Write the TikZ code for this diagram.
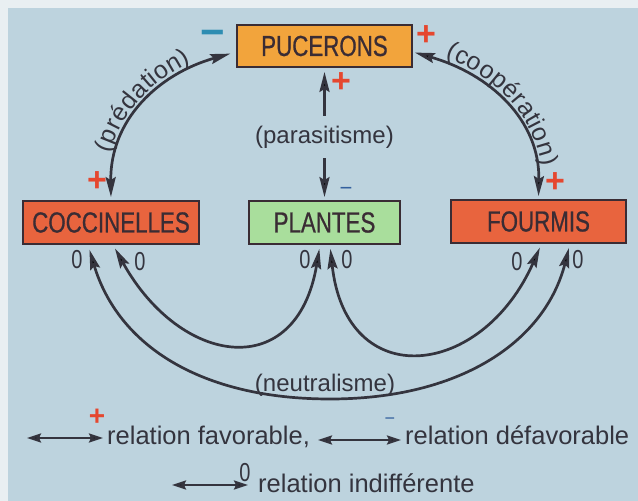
\documentclass[tikz,border=0pt]{standalone}
\usepackage{fontspec}
\setmainfont{Liberation Sans}
\newfontfamily\condf[FakeStretch=0.77,FakeBold=0.6]{Liberation Sans}
\newfontfamily\zerof[FakeStretch=0.77]{Liberation Sans}
\usetikzlibrary{arrows.meta,decorations.text}
\definecolor{bgblue}{HTML}{BDD3DE}
\definecolor{bgedge}{HTML}{E9EFF2}
\definecolor{ink}{HTML}{34343E}
\definecolor{boxline}{HTML}{3A2C34}
\definecolor{pucfill}{HTML}{F2A43C}
\definecolor{redfill}{HTML}{E8643E}
\definecolor{greenfill}{HTML}{A9DE9C}
\definecolor{plusred}{HTML}{E5472F}
\definecolor{minusblue}{HTML}{2E8DB2}
\definecolor{minusdark}{HTML}{33609E}
\begin{document}
\begin{tikzpicture}[x=1pt,y=1pt,
  box/.style={draw=boxline, line width=1.8pt, minimum height=43pt, inner sep=0pt,
    text=boxline, font=\condf\fontsize{29}{29}\selectfont},
  tipS/.tip={Stealth[length=20pt,width=10pt,inset=3pt]},
  arr/.style={draw=ink, line width=2.7pt, tipS-tipS},
  arrone/.style={draw=ink, line width=2.7pt, -tipS},
  legarr/.style={draw=ink, line width=2.4pt, {Stealth[length=14pt,width=9pt,inset=2pt]}-{Stealth[length=14pt,width=9pt,inset=2pt]}},
  lbl/.style={text=ink, inner sep=0pt, font=\fontsize{24}{24}\selectfont},
  legtxt/.style={text=ink, inner sep=0pt, font=\fontsize{25.5}{25.5}\selectfont},
  zero/.style={text=ink, inner sep=0pt, font=\zerof\fontsize{26}{26}\selectfont},
  plussign/.style={text=plusred, inner sep=0pt, font=\bfseries\fontsize{34}{34}\selectfont},
  minussign/.style={text=minusblue, inner sep=0pt, font=\bfseries\fontsize{42}{42}\selectfont},
  minussmall/.style={text=minusdark, inner sep=0pt, font=\fontsize{22}{22}\selectfont}
]
\useasboundingbox (0,0) rectangle (638,501);
\fill[bgedge] (0,0) rectangle (638,501);
\fill[bgblue] (8,0) rectangle (638,493);

% boxes
\node[box, fill=pucfill, minimum width=175pt, minimum height=42pt] (puc) at (324.5,455) {PUCERONS};
\node[box, fill=redfill, minimum width=176pt] (coc) at (111,278.5) {COCCINELLES};
\node[box, fill=greenfill, minimum width=151pt] (pla) at (324.5,278.5) {PLANTES};
\node[box, fill=redfill, minimum width=175pt] (fou) at (538.5,279.5) {FOURMIS};

% predation
\draw[arr, shorten <=3pt, shorten >=6pt] (coc.north) .. controls (110,381) and (158,427) .. ([yshift=-6pt]puc.west);
\path[decorate, decoration={text along path, text color=ink,
   text={|\fontsize{25}{25}\selectfont|(prédation)}, text align=center, raise=6pt}]
   (coc.north) .. controls (110,381) and (158,427) .. ([yshift=-6pt]puc.west);
% cooperation
\draw[arr, shorten <=2pt, shorten >=3pt] ([yshift=-6pt]puc.east) .. controls (490,427) and (540,381) .. (fou.north);
\path[decorate, decoration={text along path, text color=ink,
   text={|\fontsize{25}{25}\selectfont|(coopération)}, text align=center, raise=6pt}]
   ([yshift=-6pt]puc.east) .. controls (490,427) and (540,381) .. (fou.north);

% parasitisme
\node[lbl, inner ysep=10pt] (par) at (324.5,364) {(parasitisme)};
\draw[arrone, shorten >=4pt] (par) -- (puc);
\draw[arrone, shorten >=3pt] (par) -- (pla);

% lower arcs
\draw[arr, shorten <=4pt, shorten >=4pt] ([xshift=2pt]coc.south) .. controls (181,134) and (297,118) .. ([xshift=-4.5pt]pla.south);
\draw[arr, shorten <=4pt, shorten >=4pt] ([xshift=5.5pt]pla.south) .. controls (346,107) and (482,122) .. ([xshift=3pt]fou.south);
\draw[arr, shorten <=5pt, shorten >=4pt] ([xshift=-23pt]coc.south) .. controls (118,156) and (200,102) .. (330,102)
   .. controls (460,102) and (545,159) .. ([xshift=31.5pt]fou.south);
\node[lbl, anchor=base] (neu) at (325,109) {(neutralisme)};

% signs
\node[minussign] (m1) at (213,463) {−};
\node[plussign] (p1) at (97,319) {+};
\node[plussign] (p2) at (426,465) {+};
\node[plussign] (p3) at (341,418) {+};
\node[plussign] (p4) at (555,318) {+};
\node[minussmall] (m2) at (346,310) {−};

% zeros
\node[zero] (z1) at (77,241) {0};
\node[zero] (z2) at (140,239) {0};
\node[zero] (z3) at (305,241) {0};
\node[zero] (z4) at (347,241) {0};
\node[zero] (z5) at (517,239) {0};
\node[zero] (z6) at (578,241) {0};

% legend
\coordinate (la1) at (27,63);
\coordinate (lb1) at (103,63);
\draw[legarr] (la1) -- (lb1);
\node[plussign, font=\bfseries\fontsize{28}{28}\selectfont] (lp) at (97,84) {+};
\node[legtxt, anchor=base west] (t1) at (107,56) {relation favorable,};
\coordinate (la2) at (318,61);
\coordinate (lb2) at (401,61);
\draw[legarr] (la2) -- (lb2);
\node[minussmall, font=\fontsize{18}{18}\selectfont] (lm) at (390,80) {−};
\node[legtxt, anchor=base west] (t2) at (405,56) {relation défavorable};
\coordinate (la3) at (172,16);
\coordinate (lb3) at (248,16);
\draw[legarr] (la3) -- (lb3);
\node[zero] (lz) at (245,28) {0};
\node[legtxt, anchor=base west] (t3) at (258,8) {relation indifférente};
\end{tikzpicture}
\end{document}
